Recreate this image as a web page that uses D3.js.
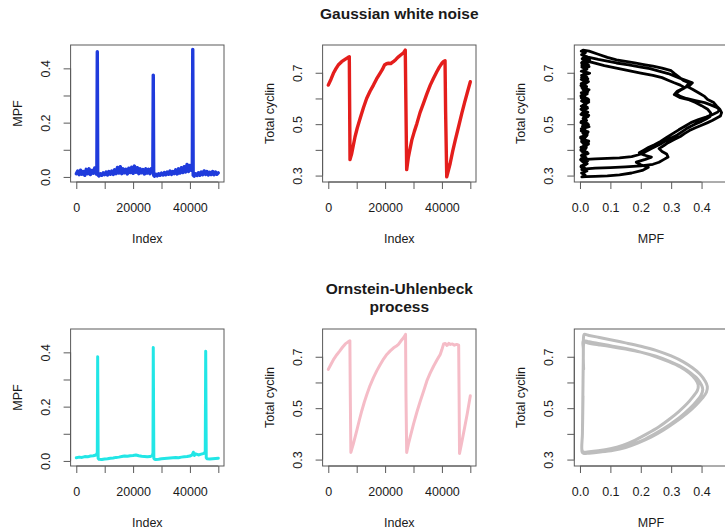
<!DOCTYPE html>
<html><head><meta charset="utf-8">
<script src="https://cdn.jsdelivr.net/npm/d3@7"></script>
<style>
body{margin:0;background:#fff}
svg text{font-family:"Liberation Sans",Arial,Helvetica,sans-serif;fill:#1a1a1a}
</style>
</head><body><svg id="c" width="725" height="529"></svg>
<script>
// ---------------- DATA ----------------
const titleTop = "Gaussian white noise";
const titleBottom = ["Ornstein-Uhlenbeck", "process"];

const timeTicks = [0, 10000, 20000, 30000, 40000, 50000];
const timeTickLabels = ["0", "", "20000", "", "40000", ""];
const mpfTicks = [0, 0.1, 0.2, 0.3, 0.4];
const mpfTickLabelsY = ["0.0", "", "0.2", "", "0.4"];
const mpfTickLabelsX = ["0.0", "0.1", "0.2", "0.3", "0.4"];
const cyclinTicks = [0.3, 0.4, 0.5, 0.6, 0.7];
const cyclinTickLabels = ["0.3", "", "0.5", "", "0.7"];

const timeLimits = [-2000, 52000];
const mpfLimits = [-0.0187, 0.486];
const cyclinLimits = [0.275, 0.808];

// MPF, Gaussian white noise  [index, MPF]
const mpfGaussian = [[0,0.012],[500,0.022],[1000,0.008],[1500,0.025],[2000,0.010],[2500,0.020],[3000,0.006],[3500,0.028],[4000,0.012],[4500,0.030],[5000,0.009],[5500,0.024],[6000,0.014],[6500,0.033],[7000,0.011],[7250,0.030],[7400,0.461],[7550,0.008],
[8000,0.004],[8500,0.012],[9000,0.006],[9500,0.015],[10000,0.008],[10500,0.018],[11000,0.007],[11500,0.020],[12000,0.010],[12500,0.022],[13000,0.009],[13500,0.026],[14000,0.012],[14500,0.035],[15000,0.014],[15500,0.038],[16000,0.012],[16500,0.030],[17000,0.015],[17500,0.028],[18000,0.011],[18500,0.032],[19000,0.016],[19500,0.036],[20000,0.013],[20500,0.040],[21000,0.017],[21500,0.034],[22000,0.012],[22500,0.030],[23000,0.015],[23500,0.027],[24000,0.011],[24500,0.030],[25000,0.014],[25500,0.028],[26000,0.012],[26500,0.031],[26950,0.022],[27100,0.375],[27250,0.006],
[27500,0.003],[28000,0.010],[28500,0.004],[29000,0.012],[29500,0.006],[30000,0.014],[30500,0.007],[31000,0.016],[31500,0.008],[32000,0.018],[32500,0.010],[33000,0.022],[33500,0.009],[34000,0.020],[34500,0.012],[35000,0.026],[35500,0.011],[36000,0.030],[36500,0.014],[37000,0.034],[37500,0.016],[38000,0.038],[38500,0.018],[39000,0.046],[39500,0.020],[40000,0.042],[40500,0.025],[40850,0.035],[41000,0.470],[41150,0.006],
[41500,0.003],[42000,0.012],[42500,0.005],[43000,0.015],[43500,0.006],[44000,0.018],[44500,0.008],[45000,0.022],[45500,0.009],[46000,0.020],[46500,0.007],[47000,0.017],[47500,0.009],[48000,0.020],[48500,0.008],[49000,0.018],[49500,0.010],[50000,0.015]];

// Total cyclin, Gaussian white noise  [index, cyclin]
const cyclinGaussian = [[0,0.652],[1000,0.676],[1800,0.698],[2700,0.716],[3500,0.730],[4700,0.743],[5900,0.752],[7000,0.760],[7400,0.762],[7500,0.600],[7650,0.362],[8250,0.386],[9400,0.450],[10200,0.485],[11200,0.522],[12400,0.565],[13500,0.600],[14700,0.628],[15900,0.652],[17000,0.676],[18200,0.698],[19000,0.712],[19800,0.730],[20500,0.735],[21200,0.737],[22000,0.736],[22900,0.743],[23800,0.752],[24700,0.762],[25600,0.770],[26500,0.778],[27100,0.788],[27300,0.600],[27600,0.323],[28200,0.372],[29400,0.438],[30300,0.472],[31200,0.503],[32300,0.545],[33500,0.581],[34700,0.618],[35900,0.652],[37000,0.678],[38200,0.704],[39100,0.722],[40000,0.737],[40600,0.744],[41100,0.747],[41300,0.550],[41700,0.295],[42900,0.347],[43800,0.395],[44700,0.438],[45900,0.492],[47000,0.542],[48000,0.585],[49000,0.625],[50000,0.665]];

// MPF, Ornstein-Uhlenbeck  [index, MPF]
const mpfOU = [[0,0.012],[1000,0.014],[2000,0.013],[3000,0.016],[4000,0.015],[5000,0.018],[6000,0.019],[7000,0.022],[7400,0.030],[7530,0.384],[7700,0.010],[8000,0.006],[9000,0.005],[10000,0.007],[11000,0.008],[12000,0.010],[13000,0.011],[14000,0.013],[15000,0.014],[16000,0.016],[17000,0.018],[18000,0.017],[19000,0.019],[20000,0.020],[21000,0.022],[22000,0.019],[23000,0.017],[24000,0.016],[25000,0.015],[26000,0.016],[26800,0.020],[27000,0.030],[27100,0.418],[27300,0.010],[27600,0.006],[28000,0.005],[29000,0.006],[30000,0.008],[31000,0.009],[32000,0.010],[33000,0.011],[34000,0.012],[35000,0.013],[36000,0.012],[37000,0.014],[38000,0.015],[39000,0.016],[40000,0.018],[40800,0.022],[41200,0.032],[41600,0.020],[42000,0.026],[43000,0.022],[44000,0.025],[45000,0.028],[45400,0.035],[45560,0.404],[45750,0.012],[46000,0.008],[47000,0.007],[48000,0.008],[49000,0.009],[50000,0.010]];

// Total cyclin, Ornstein-Uhlenbeck  [index, cyclin]
const cyclinOU = [[0,0.651],[1000,0.672],[2000,0.692],[3000,0.708],[4000,0.722],[5000,0.737],[6000,0.750],[7000,0.758],[7600,0.762],[7750,0.550],[7950,0.328],[8800,0.360],[10000,0.412],[10900,0.452],[11800,0.490],[12700,0.524],[13600,0.554],[14700,0.588],[15900,0.619],[17100,0.646],[18300,0.670],[19500,0.692],[20600,0.709],[21800,0.723],[23000,0.735],[24000,0.742],[24700,0.748],[25600,0.762],[26500,0.774],[27200,0.787],[27350,0.550],[27600,0.328],[28200,0.360],[28800,0.386],[30000,0.438],[31200,0.485],[32400,0.528],[33600,0.568],[34700,0.606],[35900,0.637],[37100,0.664],[38300,0.688],[39400,0.709],[40000,0.728],[40600,0.750],[41200,0.752],[41800,0.744],[42400,0.752],[43000,0.748],[43700,0.750],[44400,0.745],[45200,0.748],[45900,0.745],[46050,0.550],[46200,0.324],[47100,0.373],[48000,0.425],[48900,0.477],[50000,0.548]];

// Phase plot, Gaussian white noise  [MPF, cyclin]
const phaseGaussStart = [[0.012,0.652],[0.004,0.658],[0.022,0.664],[0.009,0.670],[0.026,0.676],[0.005,0.682],[0.018,0.688],[0.011,0.694],[0.028,0.700],[0.004,0.706],[0.020,0.712],[0.013,0.718],[0.030,0.724],[0.006,0.730],[0.024,0.736],[0.010,0.742],[0.032,0.748],[0.007,0.754],[0.015,0.762]];
const phaseGaussLoop1 = [[0.03,0.760],[0.06,0.752],[0.09,0.745],[0.12,0.738],[0.16,0.731],[0.20,0.722],[0.23,0.716],[0.26,0.706],[0.29,0.697],[0.31,0.688],[0.33,0.678],[0.35,0.670],[0.37,0.661],[0.36,0.650],[0.34,0.640],[0.32,0.628],[0.31,0.615],[0.33,0.603],[0.36,0.594],[0.38,0.584],[0.40,0.572],[0.42,0.558],[0.43,0.544],[0.428,0.530],[0.415,0.520],[0.40,0.511],[0.38,0.501],[0.365,0.492],[0.35,0.482],[0.335,0.470],[0.32,0.458],[0.30,0.446],[0.28,0.434],[0.265,0.423],[0.25,0.414],[0.235,0.405],[0.22,0.396],[0.21,0.388],[0.19,0.380],[0.17,0.374],[0.13,0.369],[0.09,0.367],[0.05,0.365],[0.02,0.363],[0.006,0.362]];
const phaseGaussRise1 = [[0.018,0.370],[0.004,0.378],[0.026,0.386],[0.010,0.394],[0.003,0.402],[0.021,0.410],[0.012,0.418],[0.028,0.426],[0.005,0.434],[0.016,0.442],[0.002,0.450],[0.024,0.458],[0.009,0.466],[0.019,0.474],[0.004,0.482],[0.030,0.490],[0.011,0.498],[0.006,0.506],[0.022,0.514],[0.013,0.522],[0.027,0.530],[0.003,0.538],[0.017,0.546],[0.008,0.554],[0.025,0.562],[0.005,0.570],[0.020,0.578],[0.012,0.586],[0.029,0.594],[0.004,0.602],[0.015,0.610],[0.007,0.618],[0.026,0.626],[0.010,0.634],[0.021,0.642],[0.003,0.650],[0.018,0.658],[0.028,0.666],[0.008,0.674],[0.023,0.682],[0.005,0.690],[0.031,0.698],[0.012,0.706],[0.020,0.714],[0.006,0.722],[0.027,0.730],[0.010,0.738],[0.033,0.746],[0.008,0.754],[0.024,0.762],[0.005,0.770],[0.018,0.778],[0.004,0.784],[0.010,0.788]];
const phaseGaussLoop2 = [[0.03,0.784],[0.06,0.772],[0.09,0.760],[0.12,0.750],[0.15,0.744],[0.18,0.738],[0.21,0.732],[0.24,0.726],[0.27,0.718],[0.30,0.708],[0.31,0.698],[0.325,0.684],[0.34,0.670],[0.36,0.660],[0.35,0.648],[0.37,0.636],[0.39,0.622],[0.41,0.608],[0.42,0.596],[0.44,0.584],[0.45,0.570],[0.46,0.558],[0.466,0.545],[0.462,0.532],[0.45,0.524],[0.435,0.514],[0.42,0.506],[0.40,0.496],[0.38,0.486],[0.36,0.475],[0.345,0.464],[0.33,0.452],[0.31,0.440],[0.29,0.428],[0.275,0.416],[0.26,0.405],[0.27,0.394],[0.285,0.384],[0.29,0.372],[0.275,0.362],[0.26,0.352],[0.24,0.344],[0.20,0.338],[0.15,0.334],[0.10,0.331],[0.05,0.329],[0.02,0.326],[0.006,0.323]];
const phaseGaussRise2 = [[0.015,0.330],[0.004,0.338],[0.024,0.346],[0.009,0.354],[0.002,0.362],[0.020,0.370],[0.011,0.378],[0.027,0.386],[0.006,0.394],[0.017,0.402],[0.003,0.410],[0.023,0.418],[0.010,0.426],[0.029,0.434],[0.005,0.442],[0.019,0.450],[0.012,0.458],[0.025,0.466],[0.004,0.474],[0.016,0.482],[0.008,0.490],[0.028,0.498],[0.003,0.506],[0.021,0.514],[0.010,0.522],[0.018,0.530],[0.005,0.538],[0.026,0.546],[0.011,0.554],[0.022,0.562],[0.004,0.570],[0.017,0.578],[0.029,0.586],[0.007,0.594],[0.020,0.602],[0.003,0.610],[0.024,0.618],[0.012,0.626],[0.030,0.634],[0.006,0.642],[0.018,0.650],[0.009,0.658],[0.027,0.666],[0.004,0.674],[0.021,0.682],[0.011,0.690],[0.032,0.698],[0.007,0.706],[0.023,0.714],[0.010,0.722],[0.028,0.730],[0.005,0.738],[0.012,0.747]];
const phaseGaussLoop3 = [[0.04,0.740],[0.08,0.728],[0.12,0.718],[0.16,0.708],[0.20,0.699],[0.24,0.690],[0.27,0.681],[0.29,0.671],[0.31,0.661],[0.33,0.652],[0.345,0.642],[0.33,0.632],[0.315,0.620],[0.33,0.608],[0.35,0.600],[0.38,0.592],[0.41,0.584],[0.43,0.575],[0.45,0.565],[0.46,0.556],[0.452,0.546],[0.435,0.537],[0.415,0.528],[0.39,0.518],[0.365,0.506],[0.345,0.492],[0.325,0.478],[0.305,0.463],[0.285,0.448],[0.265,0.433],[0.245,0.420],[0.225,0.409],[0.21,0.399],[0.195,0.389],[0.21,0.380],[0.235,0.372],[0.215,0.363],[0.185,0.352],[0.20,0.342],[0.225,0.332],[0.205,0.320],[0.17,0.310],[0.13,0.303],[0.09,0.299],[0.05,0.297],[0.02,0.296],[0.006,0.295]];
const phaseGaussRise3 = [[0.017,0.302],[0.005,0.310],[0.023,0.318],[0.010,0.326],[0.003,0.334],[0.019,0.342],[0.012,0.350],[0.026,0.358],[0.004,0.366],[0.016,0.374],[0.008,0.382],[0.024,0.390],[0.003,0.398],[0.020,0.406],[0.011,0.414],[0.028,0.422],[0.006,0.430],[0.018,0.438],[0.002,0.446],[0.022,0.454],[0.013,0.462],[0.027,0.470],[0.005,0.478],[0.017,0.486],[0.009,0.494],[0.025,0.502],[0.004,0.510],[0.020,0.518],[0.012,0.526],[0.029,0.534],[0.006,0.542],[0.016,0.550],[0.003,0.558],[0.024,0.566],[0.010,0.574],[0.021,0.582],[0.005,0.590],[0.027,0.598],[0.012,0.606],[0.019,0.614],[0.004,0.622],[0.026,0.630],[0.009,0.638],[0.022,0.646],[0.006,0.654],[0.014,0.665]];

// Phase plot, Ornstein-Uhlenbeck  [MPF, cyclin]
const phaseOUStart = [[0.012,0.651],[0.011,0.690],[0.011,0.730],[0.011,0.762]];
const phaseOULoop1 = [[0.03,0.758],[0.06,0.752],[0.10,0.743],[0.15,0.732],[0.20,0.718],[0.25,0.700],[0.29,0.682],[0.33,0.660],[0.36,0.636],[0.38,0.612],[0.389,0.590],[0.386,0.568],[0.372,0.545],[0.352,0.517],[0.325,0.487],[0.295,0.458],[0.26,0.428],[0.22,0.400],[0.18,0.375],[0.14,0.355],[0.10,0.342],[0.06,0.334],[0.03,0.330],[0.012,0.329],[0.007,0.335]];
const phaseOURise1 = [[0.008,0.400],[0.009,0.500],[0.010,0.600],[0.011,0.700],[0.012,0.780],[0.014,0.787]];
const phaseOULoop2 = [[0.03,0.783],[0.06,0.776],[0.10,0.766],[0.15,0.754],[0.20,0.741],[0.25,0.725],[0.30,0.703],[0.34,0.680],[0.37,0.657],[0.395,0.632],[0.411,0.607],[0.419,0.585],[0.416,0.562],[0.402,0.538],[0.38,0.510],[0.35,0.478],[0.315,0.447],[0.275,0.415],[0.235,0.388],[0.19,0.364],[0.15,0.347],[0.11,0.336],[0.07,0.330],[0.035,0.327],[0.012,0.327],[0.007,0.333]];
const phaseOURise2 = [[0.008,0.400],[0.009,0.500],[0.010,0.600],[0.011,0.700],[0.012,0.750],[0.014,0.757]];
const phaseOULoop3 = [[0.03,0.752],[0.06,0.747],[0.10,0.740],[0.15,0.730],[0.20,0.718],[0.25,0.702],[0.295,0.682],[0.335,0.660],[0.365,0.636],[0.388,0.612],[0.400,0.590],[0.404,0.572],[0.398,0.550],[0.383,0.526],[0.36,0.497],[0.33,0.466],[0.295,0.436],[0.255,0.406],[0.215,0.380],[0.175,0.360],[0.135,0.345],[0.095,0.334],[0.06,0.328],[0.03,0.325],[0.012,0.324],[0.007,0.330]];
const phaseOURise3 = [[0.008,0.400],[0.009,0.470],[0.010,0.548]];

// ---------------- DRAWING ----------------
const svg = d3.select("#c");
const panelW = 153.4, panelH = 137;
const colLeft = [70.6, 322.6, 574.3];
const rowTop = [45, 329];
const axisColor = "#5a5a5a";
const fontSize = 12.5;

function panel(o) {
  const x0 = colLeft[o.col], y0 = rowTop[o.row];
  const x = d3.scaleLinear().domain(o.xDomain).range([x0, x0 + panelW]);
  const y = d3.scaleLinear().domain(o.yDomain).range([y0 + panelH, y0]);
  const g = svg.append("g");
  const clipId = "clip" + o.col + "_" + o.row;
  g.append("clipPath").attr("id", clipId).append("rect")
    .attr("x", x0).attr("y", y0).attr("width", panelW).attr("height", panelH);

  const line = d3.line().x(d => x(d[0])).y(d => y(d[1])).curve(o.curve || d3.curveLinear);
  o.series.forEach(s => {
    g.append("path").attr("clip-path", `url(#${clipId})`)
      .attr("d", line(s)).attr("fill", "none").attr("stroke", o.color)
      .attr("stroke-width", o.width).attr("stroke-linejoin", "round").attr("stroke-linecap", "round");
  });

  g.append("rect").attr("x", x0).attr("y", y0).attr("width", panelW).attr("height", panelH)
    .attr("fill", "none").attr("stroke", axisColor).attr("stroke-width", 1);

  // x axis
  const gx = g.append("g").attr("transform", `translate(0,${y0 + panelH})`)
    .call(d3.axisBottom(x).tickValues(o.xTicks).tickFormat((d, i) => o.xLabels[i]).tickSize(7).tickSizeOuter(0));
  gx.select(".domain").attr("d", `M${x(o.xTicks[0])},0H${x(o.xTicks[o.xTicks.length - 1])}`).attr("stroke", axisColor);
  gx.selectAll(".tick line").attr("stroke", axisColor);
  gx.selectAll(".tick text").attr("y", 30).attr("dy", null).attr("font-size", fontSize).attr("fill", "#1a1a1a");
  gx.attr("font-family", null).attr("font-size", null);

  // y axis
  const gy = g.append("g").attr("transform", `translate(${x0},0)`)
    .call(d3.axisLeft(y).tickValues(o.yTicks).tickFormat((d, i) => o.yLabels[i]).tickSize(7).tickSizeOuter(0));
  gy.select(".domain").attr("d", `M0,${y(o.yTicks[0])}V${y(o.yTicks[o.yTicks.length - 1])}`).attr("stroke", axisColor);
  gy.selectAll(".tick line").attr("stroke", axisColor);
  gy.selectAll(".tick text").attr("x", 0).attr("y", -21).attr("dy", null)
    .attr("transform", "rotate(-90)").attr("text-anchor", "middle")
    .attr("font-size", fontSize).attr("fill", "#1a1a1a");
  gy.attr("font-family", null).attr("font-size", null);

  // axis titles
  g.append("text").attr("x", x0 + panelW / 2).attr("y", y0 + panelH + 60.5)
    .attr("text-anchor", "middle").attr("font-size", fontSize).text(o.xTitle);
  g.append("text").attr("transform", `translate(${x0 - 49},${y0 + panelH / 2}) rotate(-90)`)
    .attr("text-anchor", "middle").attr("font-size", fontSize).text(o.yTitle);
}

const phaseGauss = [].concat(phaseGaussStart, phaseGaussLoop1, phaseGaussRise1, phaseGaussLoop2, phaseGaussRise2, phaseGaussLoop3, phaseGaussRise3);
const phaseOU = [].concat(phaseOUStart, phaseOULoop1, phaseOURise1, phaseOULoop2, phaseOURise2, phaseOULoop3, phaseOURise3);

// top row
panel({col:0,row:0,xDomain:timeLimits,yDomain:mpfLimits,xTicks:timeTicks,xLabels:timeTickLabels,yTicks:mpfTicks,yLabels:mpfTickLabelsY,xTitle:"Index",yTitle:"MPF",series:[mpfGaussian],color:"#1f3bdc",width:3.4});
panel({col:1,row:0,xDomain:timeLimits,yDomain:cyclinLimits,xTicks:timeTicks,xLabels:timeTickLabels,yTicks:cyclinTicks,yLabels:cyclinTickLabels,xTitle:"Index",yTitle:"Total cyclin",series:[cyclinGaussian],color:"#e41e1c",width:3.4});
panel({col:2,row:0,xDomain:mpfLimits,yDomain:cyclinLimits,xTicks:mpfTicks,xLabels:mpfTickLabelsX,yTicks:cyclinTicks,yLabels:cyclinTickLabels,xTitle:"MPF",yTitle:"Total cyclin",series:[phaseGauss],color:"#000",width:2.8});
// bottom row
panel({col:0,row:1,xDomain:timeLimits,yDomain:mpfLimits,xTicks:timeTicks,xLabels:timeTickLabels,yTicks:mpfTicks,yLabels:mpfTickLabelsY,xTitle:"Index",yTitle:"MPF",series:[mpfOU],color:"#22e6e6",width:3});
panel({col:1,row:1,xDomain:timeLimits,yDomain:cyclinLimits,xTicks:timeTicks,xLabels:timeTickLabels,yTicks:cyclinTicks,yLabels:cyclinTickLabels,xTitle:"Index",yTitle:"Total cyclin",series:[cyclinOU],color:"#f5bcc7",width:3});
panel({col:2,row:1,xDomain:mpfLimits,yDomain:cyclinLimits,xTicks:mpfTicks,xLabels:mpfTickLabelsX,yTicks:cyclinTicks,yLabels:cyclinTickLabels,xTitle:"MPF",yTitle:"Total cyclin",series:[phaseOU],color:"#bdbdbd",width:3,curve:d3.curveCatmullRom});

// titles
const titleX = colLeft[1] + panelW / 2;
svg.append("text").attr("x", titleX).attr("y", 19).attr("text-anchor", "middle")
  .attr("font-size", 15.5).attr("font-weight", "bold").text(titleTop);
titleBottom.forEach((t, i) => {
  svg.append("text").attr("x", titleX).attr("y", 293.5 + i * 18.5).attr("text-anchor", "middle")
    .attr("font-size", 15.5).attr("font-weight", "bold").text(t);
});
</script></body></html>
